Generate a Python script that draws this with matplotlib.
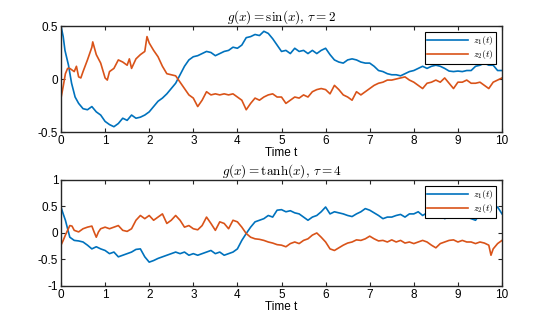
import numpy as np
import matplotlib
matplotlib.use("Agg")
import matplotlib.pyplot as plt

plt.rcParams.update({
    "font.family": "Liberation Sans",
    "mathtext.fontset": "cm",
    "font.size": 8,
    "xtick.direction": "in",
    "ytick.direction": "in",
    "xtick.top": True,
    "ytick.right": True,
})

# ---- panel 1 : g(x) = sin(x), tau = 2 ----
t1_z1 = [0, 0.05, 0.09, 0.17, 0.24, 0.32, 0.4, 0.5, 0.6, 0.7, 0.8, 0.9, 1.0, 1.1, 1.2, 1.3,
         1.4, 1.5, 1.6, 1.7, 1.8, 1.9, 2.0, 2.1, 2.2, 2.3, 2.4, 2.5, 2.6, 2.7, 2.8, 2.9,
         3.0, 3.1, 3.2, 3.3, 3.4, 3.5, 3.6, 3.7, 3.8, 3.9, 4.0, 4.1, 4.2, 4.3, 4.4, 4.5,
         4.6, 4.7, 4.8, 4.9, 5.0, 5.1, 5.2, 5.3, 5.4, 5.5, 5.6, 5.7, 5.8, 5.9, 6.0, 6.1,
         6.2, 6.3, 6.4, 6.5, 6.6, 6.7, 6.8, 6.9, 7.0, 7.1, 7.2, 7.3, 7.4, 7.5, 7.6, 7.7,
         7.8, 7.9, 8.0, 8.1, 8.2, 8.3, 8.4, 8.5, 8.6, 8.7, 8.8, 8.9, 9.0, 9.1, 9.2, 9.3,
         9.4, 9.5, 9.6, 9.7, 9.8, 9.9, 10.0]
z1_sin = [0.50, 0.40, 0.27, 0.13, -0.04, -0.17, -0.23, -0.28, -0.29, -0.26, -0.31, -0.34,
          -0.40, -0.43, -0.45, -0.42, -0.37, -0.39, -0.34, -0.37, -0.36, -0.34, -0.31, -0.26,
          -0.21, -0.18, -0.14, -0.09, -0.04, 0.04, 0.12, 0.18, 0.21, 0.22, 0.24, 0.26, 0.25,
          0.22, 0.24, 0.26, 0.27, 0.30, 0.29, 0.32, 0.39, 0.40, 0.42, 0.41, 0.45, 0.43, 0.38,
          0.32, 0.26, 0.27, 0.24, 0.29, 0.26, 0.27, 0.24, 0.27, 0.24, 0.27, 0.29, 0.23, 0.18,
          0.16, 0.15, 0.18, 0.19, 0.18, 0.16, 0.15, 0.15, 0.12, 0.08, 0.07, 0.05, 0.04, 0.04,
          0.03, 0.05, 0.07, 0.08, 0.10, 0.12, 0.10, 0.12, 0.13, 0.12, 0.10, 0.075, 0.07,
          0.075, 0.07, 0.08, 0.08, 0.12, 0.13, 0.15, 0.13, 0.13, 0.08, 0.08]

t1_z2 = [0, 0.05, 0.1, 0.15, 0.2, 0.3, 0.35, 0.4, 0.45, 0.5, 0.6, 0.7, 0.72, 0.8, 0.9, 1.0,
         1.05, 1.1, 1.2, 1.3, 1.4, 1.5, 1.55, 1.6, 1.7, 1.8, 1.9, 1.95, 2.0, 2.1, 2.2, 2.3,
         2.4, 2.5, 2.6, 2.7, 2.8, 2.9, 3.0, 3.1, 3.2, 3.3, 3.4, 3.5, 3.6, 3.7, 3.8, 3.9,
         4.0, 4.1, 4.2, 4.25, 4.3, 4.4, 4.5, 4.6, 4.7, 4.8, 4.9, 5.0, 5.1, 5.2, 5.3, 5.4,
         5.5, 5.6, 5.7, 5.8, 5.9, 6.0, 6.1, 6.2, 6.3, 6.4, 6.5, 6.6, 6.7, 6.8, 6.9, 7.0,
         7.1, 7.2, 7.3, 7.4, 7.5, 7.6, 7.7, 7.8, 7.9, 8.0, 8.1, 8.2, 8.3, 8.4, 8.5, 8.6,
         8.7, 8.8, 8.9, 9.0, 9.1, 9.2, 9.3, 9.4, 9.5, 9.6, 9.7, 9.8, 9.9, 10.0]
z2_sin = [-0.18, -0.07, 0.05, 0.10, 0.10, 0.07, 0.12, 0.02, 0.01, 0.07, 0.18, 0.30, 0.35,
          0.23, 0.15, 0.01, -0.01, 0.07, 0.10, 0.18, 0.16, 0.13, 0.19, 0.10, 0.19, 0.23,
          0.26, 0.40, 0.34, 0.27, 0.21, 0.12, 0.05, 0.04, 0.03, -0.03, -0.09, -0.15, -0.18,
          -0.26, -0.20, -0.12, -0.15, -0.14, -0.15, -0.14, -0.15, -0.14, -0.17, -0.20, -0.29,
          -0.26, -0.23, -0.18, -0.20, -0.17, -0.15, -0.14, -0.17, -0.17, -0.23, -0.20, -0.17,
          -0.18, -0.15, -0.17, -0.12, -0.10, -0.09, -0.10, -0.14, -0.06, -0.10, -0.15, -0.17,
          -0.20, -0.12, -0.15, -0.12, -0.09, -0.06, -0.04, -0.03, -0.01, -0.01, 0.00, 0.01,
          0.02, -0.01, -0.03, -0.06, -0.09, -0.04, -0.03, -0.01, -0.03, 0.01, -0.04, -0.09,
          -0.03, -0.03, -0.01, -0.04, -0.04, -0.03, -0.06, -0.09, -0.03, -0.01, 0.01]

# ---- panel 2 : g(x) = tanh(x), tau = 4 ----
t2_z1 = [0, 0.05, 0.1, 0.15, 0.2, 0.3, 0.4, 0.5, 0.6, 0.7, 0.8, 0.9, 1.0, 1.1, 1.2, 1.3,
         1.4, 1.5, 1.6, 1.7, 1.8, 1.9, 2.0, 2.1, 2.2, 2.3, 2.4, 2.5, 2.6, 2.7, 2.8, 2.9,
         3.0, 3.1, 3.2, 3.3, 3.4, 3.5, 3.6, 3.7, 3.8, 3.9, 4.0, 4.1, 4.2, 4.3, 4.4, 4.5,
         4.6, 4.7, 4.8, 4.9, 5.0, 5.1, 5.2, 5.3, 5.4, 5.5, 5.6, 5.7, 5.8, 5.9, 6.0, 6.1,
         6.2, 6.3, 6.4, 6.5, 6.6, 6.7, 6.8, 6.9, 7.0, 7.1, 7.2, 7.3, 7.4, 7.5, 7.6, 7.7,
         7.8, 7.9, 8.0, 8.1, 8.2, 8.3, 8.4, 8.5, 8.6, 8.7, 8.8, 8.9, 9.0, 9.1, 9.2, 9.3,
         9.4, 9.5, 9.6, 9.7, 9.8, 9.9, 10.0]
z1_tanh = [0.49, 0.36, 0.24, 0.08, -0.08, -0.14, -0.15, -0.17, -0.23, -0.30, -0.26, -0.30,
           -0.33, -0.39, -0.36, -0.45, -0.42, -0.39, -0.36, -0.31, -0.30, -0.45, -0.55, -0.52,
           -0.48, -0.45, -0.42, -0.39, -0.36, -0.39, -0.36, -0.42, -0.39, -0.42, -0.39, -0.36,
           -0.33, -0.39, -0.36, -0.42, -0.39, -0.36, -0.30, -0.14, -0.01, 0.11, 0.21, 0.24,
           0.27, 0.33, 0.30, 0.43, 0.44, 0.40, 0.42, 0.38, 0.36, 0.30, 0.24, 0.30, 0.33, 0.40,
           0.49, 0.36, 0.40, 0.38, 0.36, 0.33, 0.31, 0.36, 0.40, 0.46, 0.43, 0.38, 0.33, 0.27,
           0.30, 0.30, 0.33, 0.35, 0.30, 0.36, 0.36, 0.40, 0.33, 0.38, 0.30, 0.31, 0.33, 0.27,
           0.30, 0.29, 0.31, 0.29, 0.30, 0.27, 0.24, 0.36, 0.40, 0.40, 0.43, 0.49, 0.36]

t2_z2 = [0, 0.05, 0.1, 0.15, 0.2, 0.25, 0.3, 0.4, 0.5, 0.6, 0.7, 0.75, 0.8, 0.85, 0.9, 1.0,
         1.1, 1.2, 1.3, 1.4, 1.5, 1.6, 1.7, 1.8, 1.9, 2.0, 2.1, 2.2, 2.3, 2.4, 2.5, 2.6,
         2.7, 2.8, 2.9, 3.0, 3.1, 3.2, 3.3, 3.4, 3.5, 3.6, 3.7, 3.8, 3.9, 4.0, 4.1, 4.2,
         4.3, 4.4, 4.5, 4.6, 4.7, 4.8, 4.9, 5.0, 5.1, 5.2, 5.3, 5.4, 5.5, 5.6, 5.7, 5.8,
         5.9, 6.0, 6.1, 6.2, 6.3, 6.4, 6.5, 6.6, 6.7, 6.8, 6.9, 7.0, 7.1, 7.2, 7.3, 7.4,
         7.5, 7.6, 7.7, 7.8, 7.9, 8.0, 8.1, 8.2, 8.3, 8.4, 8.5, 8.6, 8.7, 8.8, 8.9, 9.0,
         9.1, 9.2, 9.3, 9.4, 9.5, 9.6, 9.7, 9.75, 9.8, 9.9, 10.0]
z2_tanh = [-0.23, -0.14, -0.04, 0.05, 0.14, 0.13, 0.05, 0.02, 0.08, 0.11, 0.13, 0.02, -0.08,
           0.02, 0.08, 0.11, 0.08, 0.11, 0.14, 0.05, 0.03, 0.08, 0.24, 0.33, 0.27, 0.33, 0.24,
           0.30, 0.36, 0.18, 0.24, 0.33, 0.24, 0.11, 0.14, 0.08, 0.06, 0.14, 0.30, 0.18, 0.05,
           0.21, 0.18, 0.08, 0.24, 0.21, 0.11, -0.01, -0.08, -0.11, -0.12, -0.14, -0.17, -0.19,
           -0.22, -0.23, -0.26, -0.20, -0.17, -0.20, -0.14, -0.11, -0.04, 0.00, -0.08, -0.17,
           -0.30, -0.33, -0.28, -0.23, -0.19, -0.17, -0.13, -0.14, -0.11, -0.06, -0.11, -0.15,
           -0.14, -0.17, -0.13, -0.17, -0.14, -0.19, -0.17, -0.20, -0.17, -0.14, -0.17, -0.23,
           -0.28, -0.20, -0.17, -0.14, -0.13, -0.17, -0.14, -0.17, -0.17, -0.20, -0.17, -0.19,
           -0.23, -0.42, -0.30, -0.20, -0.14]

titles = [r"$g(x) = \sin(x),\,\tau = 2$", r"$g(x) = \tanh(x),\,\tau = 4$"]
labels = [r"$z_1(t)$", r"$z_2(t)$"]
blue, orange = "#0072BD", "#D95319"

fig = plt.figure(figsize=(5.56, 3.23), dpi=100)
ax1 = fig.add_axes([0.1097, 0.5913, 0.7932, 0.3282])
ax2 = fig.add_axes([0.1097, 0.1146, 0.7932, 0.3282])

panels = [
    (ax1, t1_z1, z1_sin, t1_z2, z2_sin, (-0.5, 0.5), [-0.5, 0, 0.5], ["-0.5", "0", "0.5"]),
    (ax2, t2_z1, z1_tanh, t2_z2, z2_tanh, (-1, 1), [-1, -0.5, 0, 0.5, 1],
     ["-1", "-0.5", "0", "0.5", "1"]),
]

for i, (ax, ta, za, tb, zb, ylim, yt, ytl) in enumerate(panels):
    ax.plot(ta, za, color=blue, lw=1.2, label=labels[0])
    ax.plot(tb, zb, color=orange, lw=1.2, label=labels[1])
    ax.set_xlim(0, 10)
    ax.set_ylim(*ylim)
    ax.set_xticks(range(0, 11))
    ax.set_yticks(yt)
    ax.set_yticklabels(ytl)
    ax.tick_params(labelsize=8.5, length=3, width=0.8, color="#262626", pad=2)
    for s in ax.spines.values():
        s.set_color("#262626")
        s.set_linewidth(1.0)
    ax.set_xlabel("Time t", fontsize=8.5, labelpad=0)
    ax.set_title(titles[i], fontsize=9.5, pad=3)
    leg = ax.legend(loc="upper right", fontsize=7, frameon=True, fancybox=False,
                    edgecolor="black", framealpha=1, handlelength=4.2,
                    borderpad=0.25, labelspacing=0.1, handletextpad=0.5,
                    borderaxespad=0.6)
    leg.get_frame().set_linewidth(0.8)

fig.savefig("out.png", dpi=100)
